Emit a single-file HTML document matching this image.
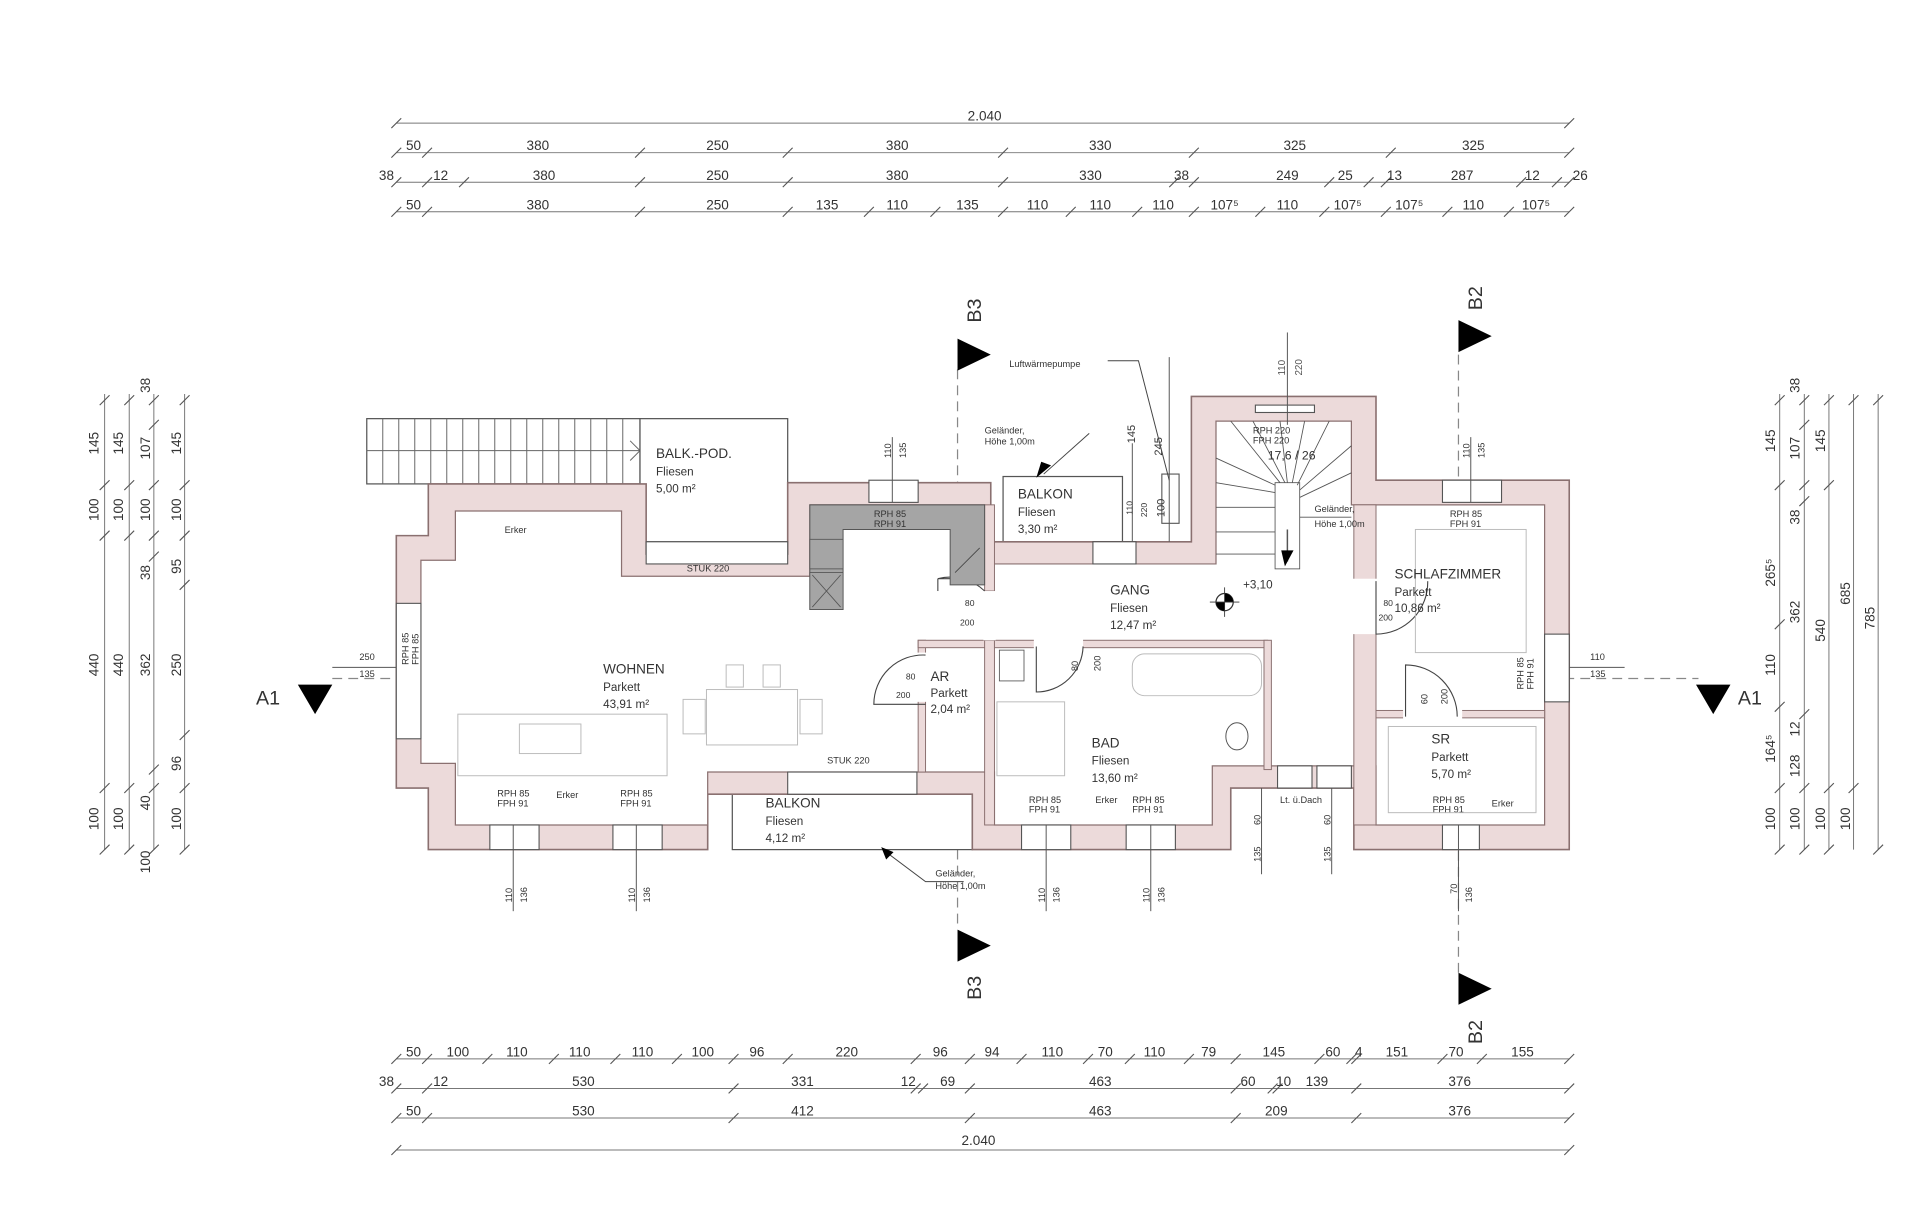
<!DOCTYPE html>
<html><head><meta charset="utf-8"><style>
html,body{margin:0;padding:0;background:#fff;}
svg{display:block;}
text{font-family:"Liberation Sans",sans-serif;fill:#333;}
.d{font-size:11px;text-anchor:middle;}
.s{font-size:6px;fill:#555;}
.r{font-size:11px;}
.rs{font-size:9.5px;}
.dl{stroke:#777;stroke-width:0.8;fill:none;}
.tk{stroke:#555;stroke-width:0.9;}
.w{fill:#ecdada;stroke:#8a7070;stroke-width:1.3;}
.iw{fill:#ecdada;stroke:#8a7070;stroke-width:0.8;}
.ln{stroke:#444;stroke-width:1;fill:none;}
.lt{stroke:#bbb;stroke-width:0.8;fill:none;}
.win{fill:#fff;stroke:#555;stroke-width:0.9;}
.dash{stroke:#888;stroke-width:1;stroke-dasharray:8 5;fill:none;}
</style></head><body>
<svg width="1920" height="1219" viewBox="0 0 1560 990" preserveAspectRatio="none" xmlns="http://www.w3.org/2000/svg">
<rect width="1560" height="990" fill="#fff"/>

<!-- TOP DIMENSIONS -->
<g>
<line class="dl" x1="322" y1="100" x2="1275" y2="100"/>
<line class="dl" x1="322" y1="124" x2="1275" y2="124"/>
<line class="dl" x1="322" y1="148" x2="1275" y2="148"/>
<line class="dl" x1="322" y1="172" x2="1275" y2="172"/>
<g class="tk">
<path d="M318,104l8,-8M1271,104l8,-8"/>
<path d="M318,128l8,-8M343,128l8,-8M516,128l8,-8M636,128l8,-8M811,128l8,-8M966,128l8,-8M1126,128l8,-8M1271,128l8,-8"/>
<path d="M318,152l8,-8M343,152l8,-8M373,152l8,-8M516,152l8,-8M636,152l8,-8M811,152l8,-8M950,152l8,-8M966,152l8,-8M1076,152l8,-8M1108,152l8,-8M1122,152l8,-8M1232,152l8,-8M1261,152l8,-8M1271,152l8,-8"/>
<path d="M318,176l8,-8M343,176l8,-8M516,176l8,-8M636,176l8,-8M702,176l8,-8M756,176l8,-8M811,176l8,-8M866,176l8,-8M920,176l8,-8M966,176l8,-8M1020,176l8,-8M1072,176l8,-8M1122,176l8,-8M1172,176l8,-8M1222,176l8,-8M1271,176l8,-8"/>
</g>
<text class="d" x="800" y="98">2.040</text>
<text class="d" x="336" y="122">50</text><text class="d" x="437" y="122">380</text><text class="d" x="583" y="122">250</text><text class="d" x="729" y="122">380</text><text class="d" x="894" y="122">330</text><text class="d" x="1052" y="122">325</text><text class="d" x="1197" y="122">325</text>
<text class="d" x="314" y="146">38</text><text class="d" x="358" y="146">12</text><text class="d" x="442" y="146">380</text><text class="d" x="583" y="146">250</text><text class="d" x="729" y="146">380</text><text class="d" x="886" y="146">330</text><text class="d" x="960" y="146">38</text><text class="d" x="1046" y="146">249</text><text class="d" x="1093" y="146">25</text><text class="d" x="1133" y="146">13</text><text class="d" x="1188" y="146">287</text><text class="d" x="1245" y="146">12</text><text class="d" x="1284" y="146">26</text>
<text class="d" x="336" y="170">50</text><text class="d" x="437" y="170">380</text><text class="d" x="583" y="170">250</text><text class="d" x="672" y="170">135</text><text class="d" x="729" y="170">110</text><text class="d" x="786" y="170">135</text><text class="d" x="843" y="170">110</text><text class="d" x="894" y="170">110</text><text class="d" x="945" y="170">110</text><text class="d" x="995" y="170">107⁵</text><text class="d" x="1046" y="170">110</text><text class="d" x="1095" y="170">107⁵</text><text class="d" x="1145" y="170">107⁵</text><text class="d" x="1197" y="170">110</text><text class="d" x="1248" y="170">107⁵</text>
</g>

<!-- BOTTOM DIMENSIONS -->
<g>
<line class="dl" x1="322" y1="860" x2="1275" y2="860"/>
<line class="dl" x1="322" y1="884" x2="1275" y2="884"/>
<line class="dl" x1="322" y1="908" x2="1275" y2="908"/>
<line class="dl" x1="322" y1="934" x2="1275" y2="934"/>
<g class="tk">
<path d="M318,864l8,-8M343,864l8,-8M392,864l8,-8M446,864l8,-8M496,864l8,-8M546,864l8,-8M592,864l8,-8M636,864l8,-8M740,864l8,-8M784,864l8,-8M826,864l8,-8M880,864l8,-8M914,864l8,-8M962,864l8,-8M1000,864l8,-8M1068,864l8,-8M1094,864l8,-8M1098,864l8,-8M1168,864l8,-8M1200,864l8,-8M1271,864l8,-8"/>
<path d="M318,888l8,-8M343,888l8,-8M592,888l8,-8M740,888l8,-8M746,888l8,-8M784,888l8,-8M1000,888l8,-8M1030,888l8,-8M1034,888l8,-8M1098,888l8,-8M1271,888l8,-8"/>
<path d="M318,912l8,-8M343,912l8,-8M592,912l8,-8M784,912l8,-8M1000,912l8,-8M1098,912l8,-8M1271,912l8,-8"/>
<path d="M318,938l8,-8M1271,938l8,-8"/>
</g>
<text class="d" x="336" y="858">50</text><text class="d" x="372" y="858">100</text><text class="d" x="420" y="858">110</text><text class="d" x="471" y="858">110</text><text class="d" x="522" y="858">110</text><text class="d" x="571" y="858">100</text><text class="d" x="615" y="858">96</text><text class="d" x="688" y="858">220</text><text class="d" x="764" y="858">96</text><text class="d" x="806" y="858">94</text><text class="d" x="855" y="858">110</text><text class="d" x="898" y="858">70</text><text class="d" x="938" y="858">110</text><text class="d" x="982" y="858">79</text><text class="d" x="1035" y="858">145</text><text class="d" x="1083" y="858">60</text><text class="d" x="1104" y="858">4</text><text class="d" x="1135" y="858">151</text><text class="d" x="1183" y="858">70</text><text class="d" x="1237" y="858">155</text>
<text class="d" x="314" y="882">38</text><text class="d" x="358" y="882">12</text><text class="d" x="474" y="882">530</text><text class="d" x="652" y="882">331</text><text class="d" x="738" y="882">12</text><text class="d" x="770" y="882">69</text><text class="d" x="894" y="882">463</text><text class="d" x="1014" y="882">60</text><text class="d" x="1043" y="882">10</text><text class="d" x="1070" y="882">139</text><text class="d" x="1186" y="882">376</text>
<text class="d" x="336" y="906">50</text><text class="d" x="474" y="906">530</text><text class="d" x="652" y="906">412</text><text class="d" x="894" y="906">463</text><text class="d" x="1037" y="906">209</text><text class="d" x="1186" y="906">376</text>
<text class="d" x="795" y="930">2.040</text>
</g>

<!-- LEFT DIMENSIONS -->
<g>
<line class="dl" x1="85" y1="320" x2="85" y2="690"/>
<line class="dl" x1="105" y1="320" x2="105" y2="690"/>
<line class="dl" x1="125" y1="320" x2="125" y2="690"/>
<line class="dl" x1="150" y1="320" x2="150" y2="690"/>
<g class="tk">
<path d="M81,329l8,-8M81,398l8,-8M81,439l8,-8M81,644l8,-8M81,694l8,-8"/>
<path d="M101,329l8,-8M101,398l8,-8M101,439l8,-8M101,644l8,-8M101,694l8,-8"/>
<path d="M121,329l8,-8M121,349l8,-8M121,398l8,-8M121,439l8,-8M121,456l8,-8M121,629l8,-8M121,644l8,-8M121,694l8,-8"/>
<path d="M146,329l8,-8M146,398l8,-8M146,439l8,-8M146,479l8,-8M146,601l8,-8M146,644l8,-8M146,694l8,-8"/>
</g>
<g class="d">
<text transform="translate(80,360) rotate(-90)">145</text><text transform="translate(80,414) rotate(-90)">100</text><text transform="translate(80,540) rotate(-90)">440</text><text transform="translate(80,665) rotate(-90)">100</text>
<text transform="translate(100,360) rotate(-90)">145</text><text transform="translate(100,414) rotate(-90)">100</text><text transform="translate(100,540) rotate(-90)">440</text><text transform="translate(100,665) rotate(-90)">100</text>
<text transform="translate(122,313) rotate(-90)">38</text><text transform="translate(122,364) rotate(-90)">107</text><text transform="translate(122,414) rotate(-90)">100</text><text transform="translate(122,465) rotate(-90)">38</text><text transform="translate(122,540) rotate(-90)">362</text><text transform="translate(122,652) rotate(-90)">40</text><text transform="translate(122,700) rotate(-90)">100</text>
<text transform="translate(147,360) rotate(-90)">145</text><text transform="translate(147,414) rotate(-90)">100</text><text transform="translate(147,460) rotate(-90)">95</text><text transform="translate(147,540) rotate(-90)">250</text><text transform="translate(147,620) rotate(-90)">96</text><text transform="translate(147,665) rotate(-90)">100</text>
</g>
</g>

<!-- RIGHT DIMENSIONS -->
<g>
<line class="dl" x1="1446" y1="320" x2="1446" y2="690"/>
<line class="dl" x1="1466" y1="320" x2="1466" y2="690"/>
<line class="dl" x1="1486" y1="320" x2="1486" y2="690"/>
<line class="dl" x1="1506" y1="320" x2="1506" y2="690"/>
<line class="dl" x1="1526" y1="320" x2="1526" y2="690"/>
<g class="tk">
<path d="M1442,329l8,-8M1442,398l8,-8M1442,511l8,-8M1442,578l8,-8M1442,644l8,-8M1442,694l8,-8"/>
<path d="M1462,329l8,-8M1462,349l8,-8M1462,398l8,-8M1462,411l8,-8M1462,584l8,-8M1462,644l8,-8M1462,694l8,-8"/>
<path d="M1482,329l8,-8M1482,398l8,-8M1482,644l8,-8M1482,694l8,-8"/>
<path d="M1502,329l8,-8M1502,644l8,-8"/>
<path d="M1522,329l8,-8M1522,694l8,-8"/>
</g>
<g class="d">
<text transform="translate(1442,358) rotate(-90)">145</text><text transform="translate(1442,465) rotate(-90)">265⁵</text><text transform="translate(1442,540) rotate(-90)">110</text><text transform="translate(1442,608) rotate(-90)">164⁵</text><text transform="translate(1442,665) rotate(-90)">100</text>
<text transform="translate(1462,313) rotate(-90)">38</text><text transform="translate(1462,364) rotate(-90)">107</text><text transform="translate(1462,420) rotate(-90)">38</text><text transform="translate(1462,497) rotate(-90)">362</text><text transform="translate(1462,592) rotate(-90)">12</text><text transform="translate(1462,622) rotate(-90)">128</text><text transform="translate(1462,665) rotate(-90)">100</text>
<text transform="translate(1483,358) rotate(-90)">145</text><text transform="translate(1483,512) rotate(-90)">540</text><text transform="translate(1483,665) rotate(-90)">100</text>
<text transform="translate(1503,482) rotate(-90)">685</text><text transform="translate(1503,665) rotate(-90)">100</text>
<text transform="translate(1523,502) rotate(-90)">785</text>
</g>
</g>

<!-- SECTION LINES -->
<line class="dash" x1="270" y1="551" x2="1380" y2="551"/>
<line class="dash" x1="778" y1="300" x2="778" y2="755"/>
<line class="dash" x1="1185" y1="288" x2="1185" y2="790"/>
<polygon points="778,275 805,288 778,301" fill="#000"/>
<polygon points="778,755 805,768 778,781" fill="#000"/>
<polygon points="1185,260 1212,273 1185,286" fill="#000"/>
<polygon points="1185,790 1212,803 1185,816" fill="#000"/>
<polygon points="242,556 270,556 256,580" fill="#000"/>
<polygon points="1378,556 1406,556 1392,580" fill="#000"/>
<g style="font-size:16px">
<text transform="translate(797,262) rotate(-90)">B3</text>
<text transform="translate(797,812) rotate(-90)">B3</text>
<text transform="translate(1204,252) rotate(-90)">B2</text>
<text transform="translate(1204,848) rotate(-90)">B2</text>
<text x="208" y="572">A1</text>
<text x="1412" y="572">A1</text>
</g>

<!-- exterior stair & balk-pod -->
<rect x="298" y="340" width="222" height="53" fill="#fff" stroke="#555" stroke-width="1"/>
<g class="ln" style="stroke:#666;stroke-width:0.8">
<path d="M298,366H520M311,340v53M324,340v53M337,340v53M350,340v53M363,340v53M376,340v53M389,340v53M402,340v53M415,340v53M428,340v53M441,340v53M454,340v53M467,340v53M480,340v53M493,340v53M506,340v53M512,358l8,8l-8,8"/>
</g>
<rect x="520" y="340" width="120" height="100" fill="#fff" stroke="#555" stroke-width="1"/>
<!-- small balkon top -->
<rect x="815" y="387" width="97" height="53" fill="#fff" stroke="#555" stroke-width="1"/>
<!-- bottom balkon -->
<rect x="595" y="645" width="195" height="45" fill="#fff" stroke="#555" stroke-width="1"/>

<!-- OUTER WALL SHELL -->
<polygon class="w" points="348,393 525,393 525,450 640,450 640,392 805,392 805,440 968,440 968,322 1118,322 1118,390 1275,390 1275,690 1100,690 1100,640 1000,640 1000,690 790,690 790,645 575,645 575,690 348,690 348,640 322,640 322,435 348,435"/>
<!-- INNER SPACE -->
<polygon fill="#fff" stroke="#8a7070" stroke-width="1" points="370,415 505,415 505,468 658,468 658,410 800,410 800,458 988,458 988,342 1098,342 1098,410 1255,410 1255,670 1118,670 1118,622 985,622 985,670 808,670 808,627 745,627 575,627 575,670 370,670 370,620 342,620 342,455 370,455"/>

<!-- interior walls -->
<rect class="iw" x="746" y="520" width="6" height="107"/>
<rect class="iw" x="746" y="520" width="62" height="6"/>
<rect class="iw" x="800" y="520" width="8" height="150"/>
<rect class="iw" x="808" y="520" width="222" height="6"/>
<rect class="iw" x="1027" y="520" width="6" height="105"/>
<rect class="iw" x="1100" y="410" width="18" height="260"/>
<rect class="iw" x="1118" y="577" width="137" height="6"/>
<rect class="iw" x="800" y="410" width="8" height="70"/>
<!-- door openings -->
<rect x="799" y="480" width="10" height="40" fill="#fff"/>
<rect x="1099" y="470" width="20" height="45" fill="#fff"/>
<rect x="1140" y="576" width="48" height="8" fill="#fff"/>
<rect x="745" y="530" width="8" height="40" fill="#fff"/>
<rect x="840" y="519" width="40" height="8" fill="#fff"/>

<!-- door swings -->
<g class="ln" style="stroke-width:0.9">
<path d="M800,480 A40,40 0 0 0 762,470 L800,470"/><path d="M762,470 V480"/>
<path d="M752,532 A40,40 0 0 0 710,572 L752,572"/>
<path d="M842,525 V562 A38,38 0 0 0 880,525"/>
<path d="M1118,472 V515 A42,42 0 0 0 1160,472"/>
<path d="M1142,582 V540 A42,42 0 0 1 1184,582"/>
</g>
<g class="s" style="font-size:7px">
<text x="784" y="492">80</text><text x="780" y="508">200</text>
<text x="736" y="552">80</text><text x="728" y="567">200</text>
<text x="1124" y="492">80</text><text x="1120" y="504">200</text>
</g>

<!-- kitchen -->
<path d="M658,410 H800 V475 H772 V430 H685 V495 H658 Z" fill="#a5a5a5" stroke="#555" stroke-width="0.8"/>
<rect x="658" y="438" width="27" height="24" fill="#a5a5a5" stroke="#555" stroke-width="0.7"/>
<rect x="658" y="465" width="27" height="30" fill="#a5a5a5" stroke="#555" stroke-width="0.7"/>
<path d="M660,467 L683,493 M683,467 L660,493" stroke="#555" stroke-width="0.7"/>
<path d="M776,465 L796,445" stroke="#444" stroke-width="0.7"/>

<!-- stairs inside tower -->
<g class="ln" style="stroke:#555;stroke-width:0.7">
<rect x="1036" y="392" width="20" height="70" fill="#fff"/>
<path d="M988,392 L1036,400 M988,372 L1036,394 M1000,342 L1040,392 M1018,342 L1044,392 M1040,342 L1046,392 M1060,342 L1050,392 M1080,342 L1054,394 M1098,362 L1056,398 M1098,384 L1056,404 M988,412 L1036,412 M988,432 L1036,432 M988,450 L1036,450 M1056,420 H1098"/>
<path d="M1046,430 L1046,456" style="stroke-width:1.2"/>
</g>
<polygon points="1041,447 1051,447 1044,460" fill="#000"/>
<!-- stair tower window -->
<rect x="1020" y="329" width="48" height="6" class="win"/>
<line x1="1046" y1="270" x2="1046" y2="345" stroke="#555" stroke-width="0.8"/>
<text class="s" transform="translate(1044,305) rotate(-90)" style="font-size:8px">110</text>
<text class="s" transform="translate(1058,305) rotate(-90)" style="font-size:8px">220</text>

<!-- windows -->
<g>
<rect x="706" y="390" width="40" height="18" class="win"/>
<rect x="1172" y="390" width="48" height="18" class="win"/>
<rect x="398" y="670" width="40" height="20" class="win"/>
<rect x="498" y="670" width="40" height="20" class="win"/>
<rect x="830" y="670" width="40" height="20" class="win"/>
<rect x="915" y="670" width="40" height="20" class="win"/>
<rect x="1172" y="670" width="30" height="20" class="win"/>
<rect x="322" y="490" width="20" height="110" class="win"/>
<rect x="1255" y="515" width="20" height="55" class="win"/>
<rect x="525" y="440" width="115" height="18" class="win"/>
<rect x="640" y="627" width="105" height="18" class="win"/>
<rect x="888" y="440" width="35" height="18" class="win"/>
<rect x="1038" y="622" width="28" height="18" class="win"/>
<rect x="1070" y="622" width="28" height="18" class="win"/>
<rect x="944" y="385" width="14" height="40" class="win"/>
</g>
<g stroke="#555" stroke-width="0.8">
<line x1="417" y1="670" x2="417" y2="740"/><line x1="517" y1="670" x2="517" y2="740"/>
<line x1="850" y1="670" x2="850" y2="740"/><line x1="935" y1="670" x2="935" y2="740"/>
<line x1="1185" y1="670" x2="1185" y2="740"/>
<line x1="725" y1="355" x2="725" y2="408"/><line x1="1195" y1="355" x2="1195" y2="408"/>
<line x1="1275" y1="542" x2="1320" y2="542"/><line x1="270" y1="542" x2="322" y2="542"/>
<line x1="1025" y1="640" x2="1025" y2="710"/><line x1="1082" y1="640" x2="1082" y2="710"/>
<line x1="920" y1="360" x2="920" y2="440"/><line x1="950" y1="290" x2="950" y2="440"/>
</g>

<!-- small window labels -->
<g class="s" style="font-size:7.5px">
<text transform="translate(416,733) rotate(-90)">110</text><text transform="translate(428,733) rotate(-90)">136</text>
<text transform="translate(516,733) rotate(-90)">110</text><text transform="translate(528,733) rotate(-90)">136</text>
<text transform="translate(849,733) rotate(-90)">110</text><text transform="translate(861,733) rotate(-90)">136</text>
<text transform="translate(934,733) rotate(-90)">110</text><text transform="translate(946,733) rotate(-90)">136</text>
<text transform="translate(1184,726) rotate(-90)">70</text><text transform="translate(1196,733) rotate(-90)">136</text>
<text transform="translate(724,372) rotate(-90)">110</text><text transform="translate(736,372) rotate(-90)">135</text>
<text transform="translate(1194,372) rotate(-90)">110</text><text transform="translate(1206,372) rotate(-90)">135</text>
<text transform="translate(1024,670) rotate(-90)">60</text><text transform="translate(1024,700) rotate(-90)">135</text>
<text transform="translate(1081,670) rotate(-90)">60</text><text transform="translate(1081,700) rotate(-90)">135</text>
<text x="292" y="536">250</text><text x="292" y="550">135</text>
<text x="1292" y="536">110</text><text x="1292" y="550">135</text>
<text transform="translate(332,540) rotate(-90)">RPH 85</text><text transform="translate(340,540) rotate(-90)">FPH 85</text>
<text transform="translate(1238,560) rotate(-90)">RPH 85</text><text transform="translate(1246,560) rotate(-90)">FPH 91</text>
<text x="404" y="647">RPH 85</text><text x="404" y="655">FPH 91</text>
<text x="504" y="647">RPH 85</text><text x="504" y="655">FPH 91</text>
<text x="836" y="652">RPH 85</text><text x="836" y="660">FPH 91</text>
<text x="920" y="652">RPH 85</text><text x="920" y="660">FPH 91</text>
<text x="1164" y="652">RPH 85</text><text x="1164" y="660">FPH 91</text>
<text x="1178" y="420">RPH 85</text><text x="1178" y="428">FPH 91</text>
<text x="710" y="420">RPH 85</text><text x="710" y="428">RPH 91</text>
<text x="1018" y="352">RPH 220</text><text x="1018" y="360">FPH 220</text>
<text x="558" y="464">STUK 220</text><text x="672" y="620">STUK 220</text>
<text x="410" y="433">Erker</text><text x="452" y="648">Erker</text><text x="890" y="652">Erker</text><text x="1212" y="655">Erker</text>
<text x="820" y="298">Luftwärmepumpe</text>
<text x="800" y="352">Geländer,</text><text x="800" y="361">Höhe 1,00m</text>
<text x="760" y="712">Geländer,</text><text x="760" y="722">Höhe 1,00m</text>
<text x="1068" y="416">Geländer,</text><text x="1068" y="428">Höhe 1,00m</text>
<text x="1040" y="652">Lt. ü.Dach</text>
<text transform="translate(922,360) rotate(-90)" style="font-size:9px">145</text>
<text transform="translate(944,370) rotate(-90)" style="font-size:9px">245</text>
<text transform="translate(920,418) rotate(-90)" style="font-size:7px">110</text>
<text transform="translate(932,420) rotate(-90)" style="font-size:7px">220</text>
<text transform="translate(946,420) rotate(-90)" style="font-size:9px">100</text>
<text transform="translate(876,545) rotate(-90)">80</text><text transform="translate(894,545) rotate(-90)">200</text>
<text transform="translate(1160,572) rotate(-90)">60</text><text transform="translate(1176,572) rotate(-90)">200</text>
</g>
<!-- leader lines -->
<g class="ln" style="stroke-width:0.8">
<path d="M900,293 H925 L950,390"/>
<path d="M885,352 L848,385"/>
<path d="M783,716 L752,716 L720,692"/>
</g>
<polygon points="842,388 854,378 846,375" fill="#000"/>
<polygon points="716,688 726,692 720,698" fill="#000"/>

<!-- furniture (light) -->
<g class="lt">
<rect x="574" y="560" width="74" height="45"/><rect x="555" y="568" width="18" height="28"/><rect x="650" y="568" width="18" height="28"/>
<rect x="590" y="540" width="14" height="18"/><rect x="620" y="540" width="14" height="18"/>
<rect x="372" y="580" width="170" height="50"/><rect x="422" y="588" width="50" height="24"/>
<rect x="920" y="531" width="105" height="34" rx="10"/>
<rect x="810" y="570" width="55" height="60"/>
<rect x="1150" y="430" width="90" height="100"/>
<rect x="1128" y="590" width="120" height="70"/>
</g>
<rect x="812" y="528" width="20" height="25" fill="none" stroke="#555" stroke-width="0.7"/>
<ellipse cx="1005" cy="598" rx="9" ry="11" fill="none" stroke="#555" stroke-width="0.8"/>

<!-- level marker -->
<circle cx="995" cy="489" r="7" fill="none" stroke="#333" stroke-width="1"/>
<path d="M995,489 L995,482 A7,7 0 0 1 1002,489 Z M995,489 L995,496 A7,7 0 0 1 988,489 Z" fill="#000"/>
<path d="M983,489 H1007 M995,477 V501" stroke="#333" stroke-width="0.7"/>
<text x="1010" y="478" class="rs">+3,10</text>

<!-- ROOM LABELS -->
<g>
<text x="533" y="372" class="r">BALK.-POD.</text><text x="533" y="386" class="rs">Fliesen</text><text x="533" y="400" class="rs">5,00 m²</text>
<text x="827" y="405" class="r">BALKON</text><text x="827" y="419" class="rs">Fliesen</text><text x="827" y="433" class="rs">3,30 m²</text>
<text x="1030" y="373" class="r" style="font-size:10px">17,6 / 26</text>
<text x="902" y="483" class="r">GANG</text><text x="902" y="497" class="rs">Fliesen</text><text x="902" y="511" class="rs">12,47 m²</text>
<text x="1133" y="470" class="r">SCHLAFZIMMER</text><text x="1133" y="484" class="rs">Parkett</text><text x="1133" y="497" class="rs">10,86 m²</text>
<text x="490" y="547" class="r">WOHNEN</text><text x="490" y="561" class="rs">Parkett</text><text x="490" y="575" class="rs">43,91 m²</text>
<text x="756" y="553" class="r">AR</text><text x="756" y="566" class="rs">Parkett</text><text x="756" y="579" class="rs">2,04 m²</text>
<text x="887" y="607" class="r">BAD</text><text x="887" y="621" class="rs">Fliesen</text><text x="887" y="635" class="rs">13,60 m²</text>
<text x="1163" y="604" class="r">SR</text><text x="1163" y="618" class="rs">Parkett</text><text x="1163" y="632" class="rs">5,70 m²</text>
<text x="622" y="656" class="r">BALKON</text><text x="622" y="670" class="rs">Fliesen</text><text x="622" y="684" class="rs">4,12 m²</text>
</g>
</svg>
</body></html>
